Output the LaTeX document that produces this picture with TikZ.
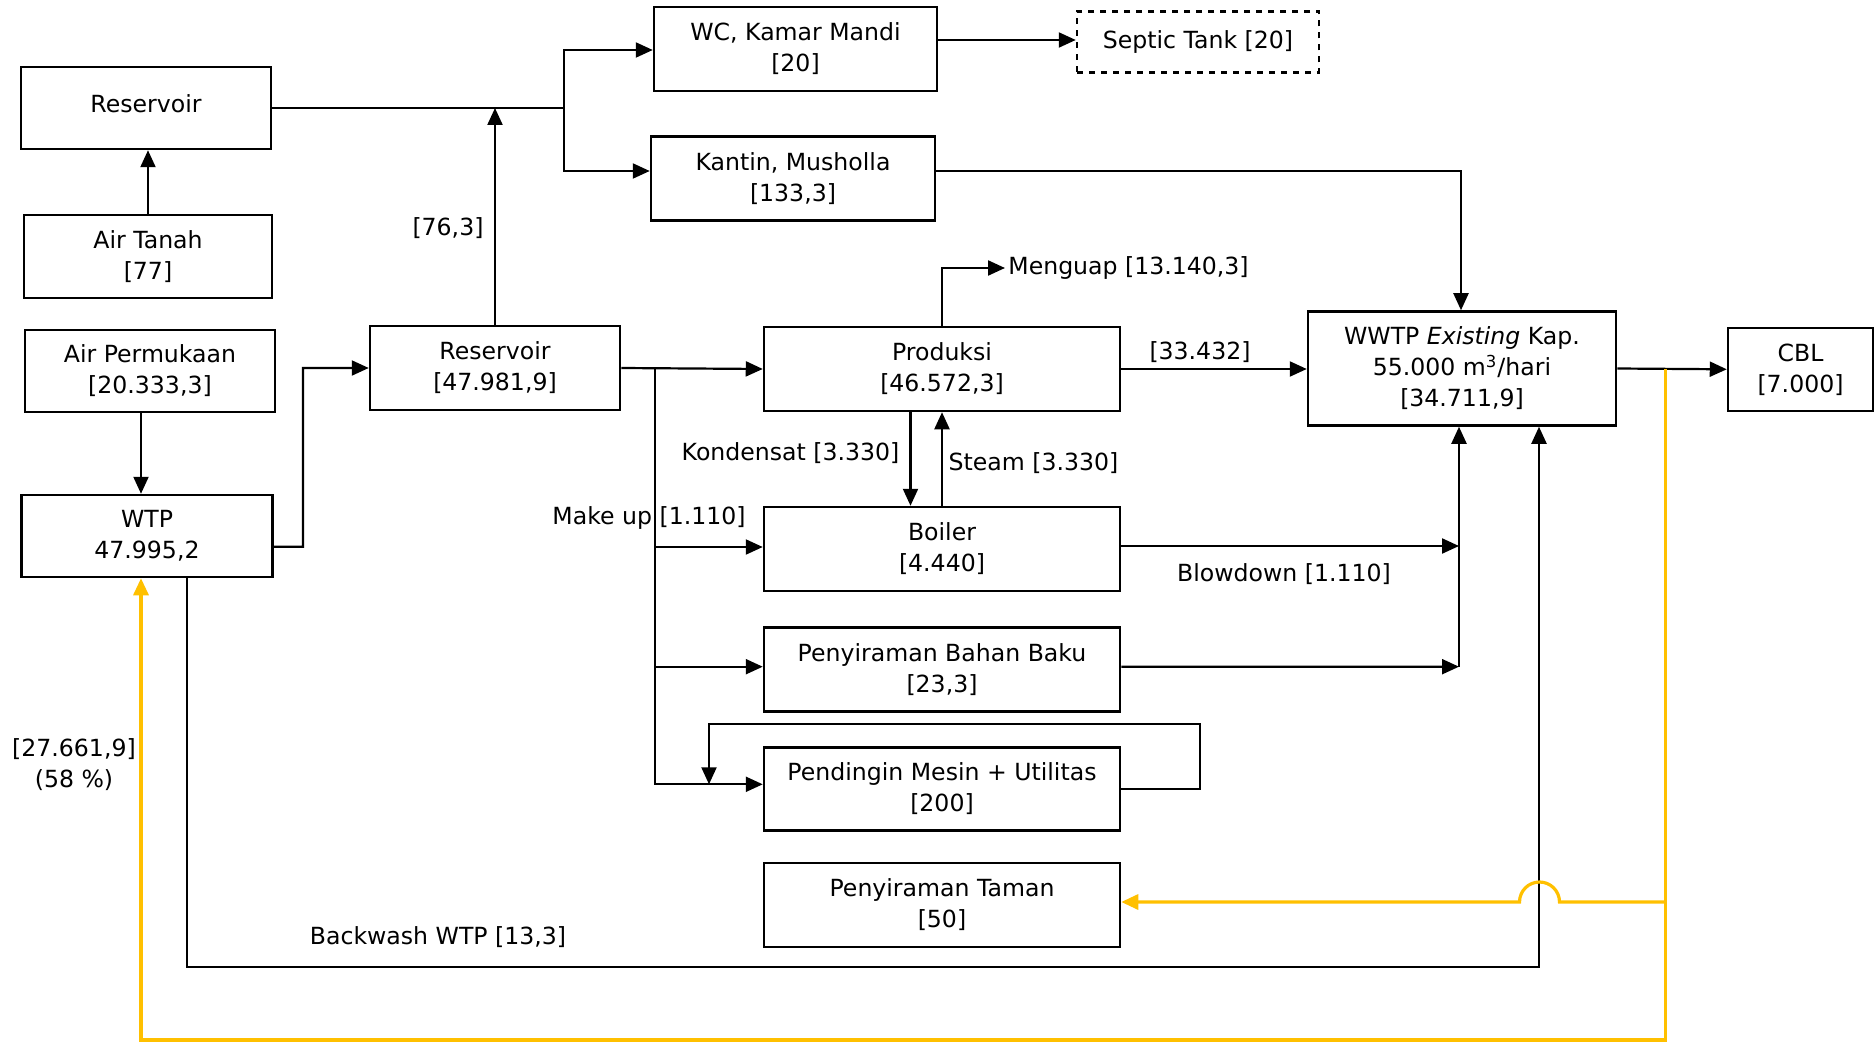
\documentclass[tikz,border=0pt]{standalone}
\usepackage{fontspec}
\setmainfont{DejaVu Sans}
\usetikzlibrary{arrows.meta}
\definecolor{ylw}{HTML}{FFC000}
\begin{document}
\begin{tikzpicture}[x=0.5pt,y=-0.5pt,
  box/.style={draw,line width=1.25pt,align=center,inner sep=0pt,font=\fontsize{11.8}{15.5}\selectfont},
  lbl/.style={align=center,inner sep=0pt,font=\fontsize{11.8}{15.5}\selectfont},
  con/.style={line width=1.1pt,-{Triangle[length=8.5pt,width=7.5pt]}},
  ln/.style={line width=1.1pt},
  ycon/.style={draw=ylw,line width=1.6pt,-{Triangle[length=8.5pt,width=7.5pt]}},
]
\useasboundingbox (0,0) rectangle (1874,1043);

% boxes
\node[box,minimum width=125pt,minimum height=41pt,text depth=4pt] (res1) at (146,108) {Reservoir};
\node[box,minimum width=124pt,minimum height=41.5pt] (tanah) at (148,256.5) {Air Tanah\\{}[77]};
\node[box,minimum width=125pt,minimum height=41pt] (perm) at (150,371) {Air Permukaan\\{}[20.333,3]};
\node[box,minimum width=125.5pt,minimum height=41pt] (wtp) at (147,536) {WTP\\47.995,2};
\node[box,minimum width=125pt,minimum height=42pt] (res2) at (495,368) {Reservoir\\{}[47.981,9]};
\node[box,minimum width=141.5pt,minimum height=42pt] (wc) at (795.5,49) {WC, Kamar Mandi\\{}[20]};
\node[box,dashed,minimum width=121pt,minimum height=30.5pt] (septic) at (1198,42) {Septic Tank [20]};
\node[box,minimum width=142pt,minimum height=42pt] (kantin) at (793,178.7) {Kantin, Musholla\\{}[133,3]};
\node[box,minimum width=178pt,minimum height=42pt] (prod) at (942,369) {Produksi\\{}[46.572,3]};
\node[box,minimum width=178pt,minimum height=42pt] (boiler) at (942,549) {Boiler\\{}[4.440]};
\node[box,minimum width=178pt,minimum height=42pt] (bahan) at (942,669.5) {Penyiraman Bahan Baku\\{}[23,3]};
\node[box,minimum width=178pt,minimum height=41.5pt] (pend) at (942,789) {Pendingin Mesin + Utilitas\\{}[200]};
\node[box,minimum width=178pt,minimum height=42pt] (taman) at (942,905) {Penyiraman Taman\\{}[50]};
\node[box,minimum width=154pt,minimum height=57pt] (wwtp) at (1462,368.5) {WWTP \textit{Existing} Kap.\\55.000 m\textsuperscript{3}/hari\\{}[34.711,9]};
\node[box,minimum width=72.5pt,minimum height=41.5pt] (cbl) at (1800.5,369.3) {CBL\\{}[7.000]};

% labels
\node[lbl] (l763) at (448,228) {[76,3]};
\node[lbl,anchor=west] (menguap) at (1008,268) {Menguap [13.140,3]};
\node[lbl] (lkond) at (790.5,453) {Kondensat [3.330]};
\node[lbl] (lsteam) at (1033.5,462.7) {Steam [3.330]};
\node[lbl] (l334) at (1200,351.7) {[33.432]};
\node[lbl] (lmu) at (649,518) {Make up [1.110]};
\node[lbl] (lbd) at (1284,574) {Blowdown [1.110]};
\node[lbl] (lbw) at (438,937) {Backwash WTP [13,3]};
\node[lbl] (lrec) at (74,765) {[27.661,9]\\(58 \%)};

% coordinates
\coordinate (j1) at (564,108);
\coordinate (mu) at (654.6,368);
\coordinate (bdj) at (1459,666.7);
\coordinate (bw) at (1539,967);
\coordinate (yj) at (1665.5,368.5);
\coordinate (ybot) at (1665.5,1040);
\coordinate (yt) at (1665.5,902);

% black connectors
\draw[con] (tanah.north) -- (tanah.north |- res1.south);
\draw[con] ([xshift=-4.5pt]perm.south) -- ([xshift=-4.5pt]perm.south |- wtp.north);
\draw[con] ([yshift=-5.35pt]wtp.east) -- (303,546.7) |- (res2.west);
\draw[ln] (res1.east) -- (j1);
\draw[con] (j1) |- ([yshift=-0.5pt]wc.west);
\draw[con] (j1) |- ([yshift=3.85pt]kantin.west);
\draw[con] (res2.north) -- (res2.north |- j1);
\draw[con] ([yshift=4.5pt]wc.east) -- ([yshift=4.5pt]wc.east -| septic.west);
\draw[con] ([yshift=3.85pt]kantin.east) -| ([xshift=-0.5pt]wwtp.north);
\draw[con] (res2.east) -- (prod.west);
\draw[con] (mu) |- ([yshift=2.35pt]pend.west);
\draw[con] (mu |- 0,547) -- (mu |- 0,547 -| boiler.west);
\draw[con] (mu |- bdj) -- (mu |- bdj -| bahan.west);
\draw[con] (prod.north) |- ([xshift=-1.5pt]menguap.west);
\draw[con] ([xshift=-15.75pt]prod.south) -- ([xshift=-15.75pt]boiler.north);
\draw[con] (boiler.north) -- (prod.south);
\draw[con] (prod.east) -- (prod.east -| wwtp.west);
\draw[con] ([yshift=1.5pt]boiler.east) -- ([yshift=1.5pt]boiler.east -| bdj);
\draw[con] ([yshift=1.4pt]bahan.east) -- (bdj);
\draw[con] (bdj) -- (bdj |- wwtp.south);
\draw[con] ([xshift=20pt]wtp.south) |- (bw) -- (bw |- wwtp.south);
\draw[con] (pend.east) -- (1200,789) -- (1200,724) -- (709,724) -- (709,784.3);
\draw[con] (wwtp.east) -- (cbl.west);

% yellow connectors
\draw[ycon] (yj) -- (ybot) -| ([xshift=-3pt]wtp.south);
\draw[ycon] (yt) -- (1559.5,902) arc[start angle=0,end angle=180,radius=10pt] -- ([yshift=1.5pt]taman.east);
\end{tikzpicture}
\end{document}
